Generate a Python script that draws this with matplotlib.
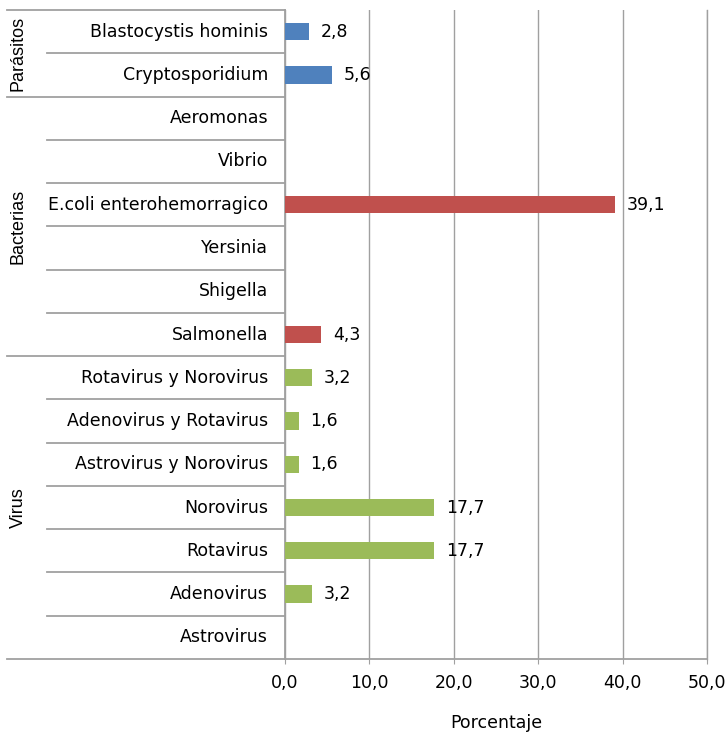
import matplotlib.pyplot as plt
import numpy as np

plt.rc('font', family='DejaVu Sans', size=12.5)

# categories from top to bottom
labels = ["Blastocystis hominis", "Cryptosporidium",
          "Aeromonas", "Vibrio", "E.coli enterohemorragico", "Yersinia", "Shigella", "Salmonella",
          "Rotavirus y Norovirus", "Adenovirus y Rotavirus", "Astrovirus y Norovirus",
          "Norovirus", "Rotavirus", "Adenovirus", "Astrovirus"]
values = [2.8, 5.6,
          0, 0, 39.1, 0, 0, 4.3,
          3.2, 1.6, 1.6, 17.7, 17.7, 3.2, 0]
groups = ["Parásitos", "Bacterias", "Virus"]
group_sizes = [2, 6, 7]
group_colors = ["#4F81BD", "#C0504D", "#9BBB59"]
xticks = [0, 10, 20, 30, 40, 50]

colors = []
for g, n in enumerate(group_sizes):
    colors += [group_colors[g]] * n

fig = plt.figure(figsize=(7.28, 7.37), dpi=100)
ax = fig.add_axes([285/728, 1 - 659/737, 422/728, 649/737])

n = len(labels)
y = np.arange(n)
ax.barh(y, values, height=0.4, color=colors, zorder=3)
ax.set_ylim(n - 0.5, -0.5)
ax.set_xlim(0, 50)

for yi, v in zip(y, values):
    if v > 0:
        ax.annotate(f"{v:.1f}".replace(".", ","), (v, yi), xytext=(8.5, 0),
                    textcoords="offset points", va="center", ha="left")

ax.set_xticks(xticks)
ax.set_xticklabels([f"{t:.1f}".replace(".", ",") for t in xticks])
ax.tick_params(axis='x', length=3.6, color="#A0A0A0", pad=7)
ax.set_yticks([])
ax.grid(axis='x', color="#A0A0A0", linewidth=1, zorder=0)
ax.spines['top'].set_visible(False)
ax.spines['right'].set_color("#A0A0A0")
ax.spines['right'].set_linewidth(1)
for s in ['left', 'bottom']:
    ax.spines[s].set_color("#A0A0A0")
    ax.spines[s].set_linewidth(1.3)
ax.set_xlabel("Porcentaje", labelpad=16)

# category labels and separators
trans = ax.get_yaxis_transform()
x_inner = (47 - 285) / 422
x_outer = (7 - 285) / 422
for yi, lab in zip(y, labels):
    ax.text(-0.04, yi, lab, transform=trans, ha="right", va="center")

bounds = np.cumsum([0] + group_sizes)
for b in range(n + 1):
    x0 = x_outer if b in bounds else x_inner
    ax.plot([x0, 0], [b - 0.5, b - 0.5], transform=trans, color="#A0A0A0",
            linewidth=1.3, clip_on=False)

for g, name in enumerate(groups):
    mid = (bounds[g] + bounds[g + 1] - 1) / 2
    ax.text((18 - 285) / 422, mid, name, transform=trans, rotation=90,
            ha="center", va="center", family="Liberation Sans", fontsize=13)

plt.savefig("out.png", dpi=100)
